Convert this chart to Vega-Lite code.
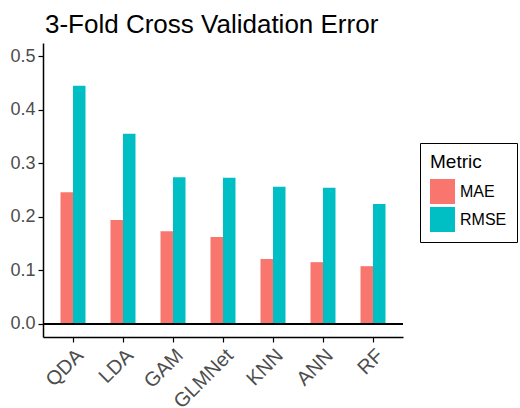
{
  "$schema": "https://vega.github.io/schema/vega-lite/v6.json",
  "width": 360,
  "height": 294,
  "autosize": {"type": "none"},
  "padding": {"left": 43, "top": 43, "right": 117, "bottom": 71},
  "title": {
    "text": "3-Fold Cross Validation Error",
    "anchor": "start",
    "frame": "group",
    "fontSize": 26,
    "fontWeight": "normal",
    "color": "black",
    "font": "Liberation Sans",
    "baseline": "alphabetic",
    "offset": 11,
    "dx": 2,
    "dy": 27
  },
  "config": {
    "view": {"stroke": null},
    "font": "Liberation Sans",
    "axis": {"grid": false}
  },
  "data": {
    "values": [
      {"Model": "QDA", "Metric": "MAE", "Error": 0.246},
      {"Model": "QDA", "Metric": "RMSE", "Error": 0.445},
      {"Model": "LDA", "Metric": "MAE", "Error": 0.194},
      {"Model": "LDA", "Metric": "RMSE", "Error": 0.355},
      {"Model": "GAM", "Metric": "MAE", "Error": 0.173},
      {"Model": "GAM", "Metric": "RMSE", "Error": 0.274},
      {"Model": "GLMNet", "Metric": "MAE", "Error": 0.162},
      {"Model": "GLMNet", "Metric": "RMSE", "Error": 0.273},
      {"Model": "KNN", "Metric": "MAE", "Error": 0.121},
      {"Model": "KNN", "Metric": "RMSE", "Error": 0.256},
      {"Model": "ANN", "Metric": "MAE", "Error": 0.115},
      {"Model": "ANN", "Metric": "RMSE", "Error": 0.254},
      {"Model": "RF", "Metric": "MAE", "Error": 0.1075},
      {"Model": "RF", "Metric": "RMSE", "Error": 0.224}
    ]
  },
  "layer": [
    {
      "mark": {"type": "bar"},
      "encoding": {
        "x": {
          "field": "Model",
          "type": "nominal",
          "sort": ["QDA", "LDA", "GAM", "GLMNet", "KNN", "ANN", "RF"],
          "scale": {"paddingInner": 0.5, "paddingOuter": 0.35},
          "axis": {
            "title": null,
            "labelAngle": -45,
            "labelFontSize": 20,
            "labelColor": "#4d4d4d",
            "domainColor": "black",
            "domainWidth": 1.5,
            "tickColor": "black",
            "tickWidth": 1.2,
            "tickSize": 5,
            "labelPadding": 3
          }
        },
        "xOffset": {"field": "Metric", "scale": {"paddingInner": 0, "paddingOuter": 0}},
        "y": {
          "field": "Error",
          "type": "quantitative",
          "scale": {"domain": [-0.025, 0.525], "nice": false, "zero": false},
          "axis": {
            "title": null,
            "values": [0, 0.1, 0.2, 0.3, 0.4, 0.5],
            "format": ".1f",
            "labelFontSize": 18,
            "labelColor": "#4d4d4d",
            "domainColor": "black",
            "domainWidth": 1.5,
            "tickColor": "black",
            "tickWidth": 1.2,
            "tickSize": 5,
            "labelPadding": 3
          }
        },
        "color": {
          "field": "Metric",
          "type": "nominal",
          "scale": {"domain": ["MAE", "RMSE"], "range": ["#F8766D", "#00BFC4"]},
          "legend": {
            "orient": "none",
            "legendX": 377,
            "legendY": 100,
            "title": "Metric",
            "titleFontSize": 19,
            "titleFontWeight": "normal",
            "titleColor": "black",
            "titlePadding": 7,
            "labelFontSize": 16,
            "labelColor": "black",
            "labelOffset": 5,
            "symbolType": "square",
            "symbolSize": 625,
            "symbolStrokeWidth": 0,
            "symbolOpacity": 1,
            "rowPadding": 3,
            "padding": 10,
            "strokeColor": "black"
          }
        }
      }
    },
    {
      "mark": {"type": "rule", "color": "black", "strokeWidth": 1.5},
      "encoding": {"y": {"datum": 0}}
    }
  ]
}
